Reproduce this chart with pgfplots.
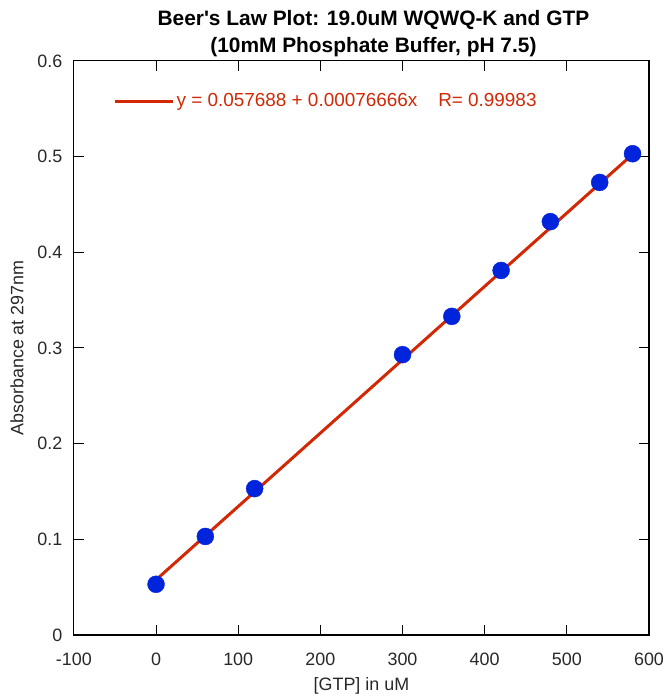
\documentclass[border=0pt]{standalone}
\usepackage{fontspec}
\setmainfont{Liberation Sans}
\usepackage{pgfplots}
\pgfplotsset{compat=1.18}
\definecolor{fitred}{RGB}{210,40,5}
\definecolor{ptblue}{RGB}{0,35,220}
\definecolor{txt}{RGB}{40,40,40}
\begin{document}
\begin{tikzpicture}
\begin{axis}[
  scale only axis,
  width=576bp, height=575bp,
  xmin=-100, xmax=600, ymin=0, ymax=0.6,
  xtick={-100,0,100,200,300,400,500,600},
  ytick={0,0.1,0.2,0.3,0.4,0.5,0.6},
  minor tick num=0,
  tick align=inside,
  major tick length=10bp,
  axis line style={line width=1.1bp, black},
  tick style={line width=1bp, black},
  /pgf/number format/assume math mode=true,
  /pgf/number format/fixed,
  ticklabel style={font=\fontsize{18}{20}\selectfont, text=txt},
  xticklabel style={yshift=-15bp},
  yticklabel style={xshift=-8bp},
  xlabel={[GTP] in uM},
  ylabel={Absorbance at 297nm},
  label style={font=\fontsize{18}{20}\selectfont, text=txt},
  xlabel style={yshift=-5bp},
  ylabel style={yshift=7bp},
  title={Beer\textquotesingle s Law Plot: 19.0uM WQWQ-K and GTP\\(10mM Phosphate Buffer, pH 7.5)},
  title style={font=\bfseries\fontsize{21}{27}\selectfont, align=center, xshift=12bp, yshift=-5bp},
  legend style={at={(0.069,0.930)}, anchor=west, draw=none, fill=none, inner sep=0pt,
    font=\fontsize{19}{21}\selectfont, text=fitred},
  legend cell align=left,
  legend image code/.code={\draw[#1, line width=3bp] (0bp,0bp) -- (58bp,0bp);},
]
\addplot[fitred, line width=3bp, no marks] coordinates {(0,0.057688) (580,0.502351)};
\addlegendentry{y = 0.057688 + 0.00076666x\ \ \ \ R= 0.99983}
\addplot[only marks, mark=*, mark size=8.5bp, ptblue, mark options={draw=ptblue, fill=ptblue}, forget plot] coordinates {
 (0,0.053) (60,0.103) (120,0.153) (300,0.293) (360,0.333) (420,0.381) (480,0.432) (540,0.473) (580,0.503)
};
\end{axis}
\path ([shift={(-74bp,-62bp)}]current axis.south west) rectangle ([shift={(20bp,61bp)}]current axis.north east);
\end{tikzpicture}
\end{document}
